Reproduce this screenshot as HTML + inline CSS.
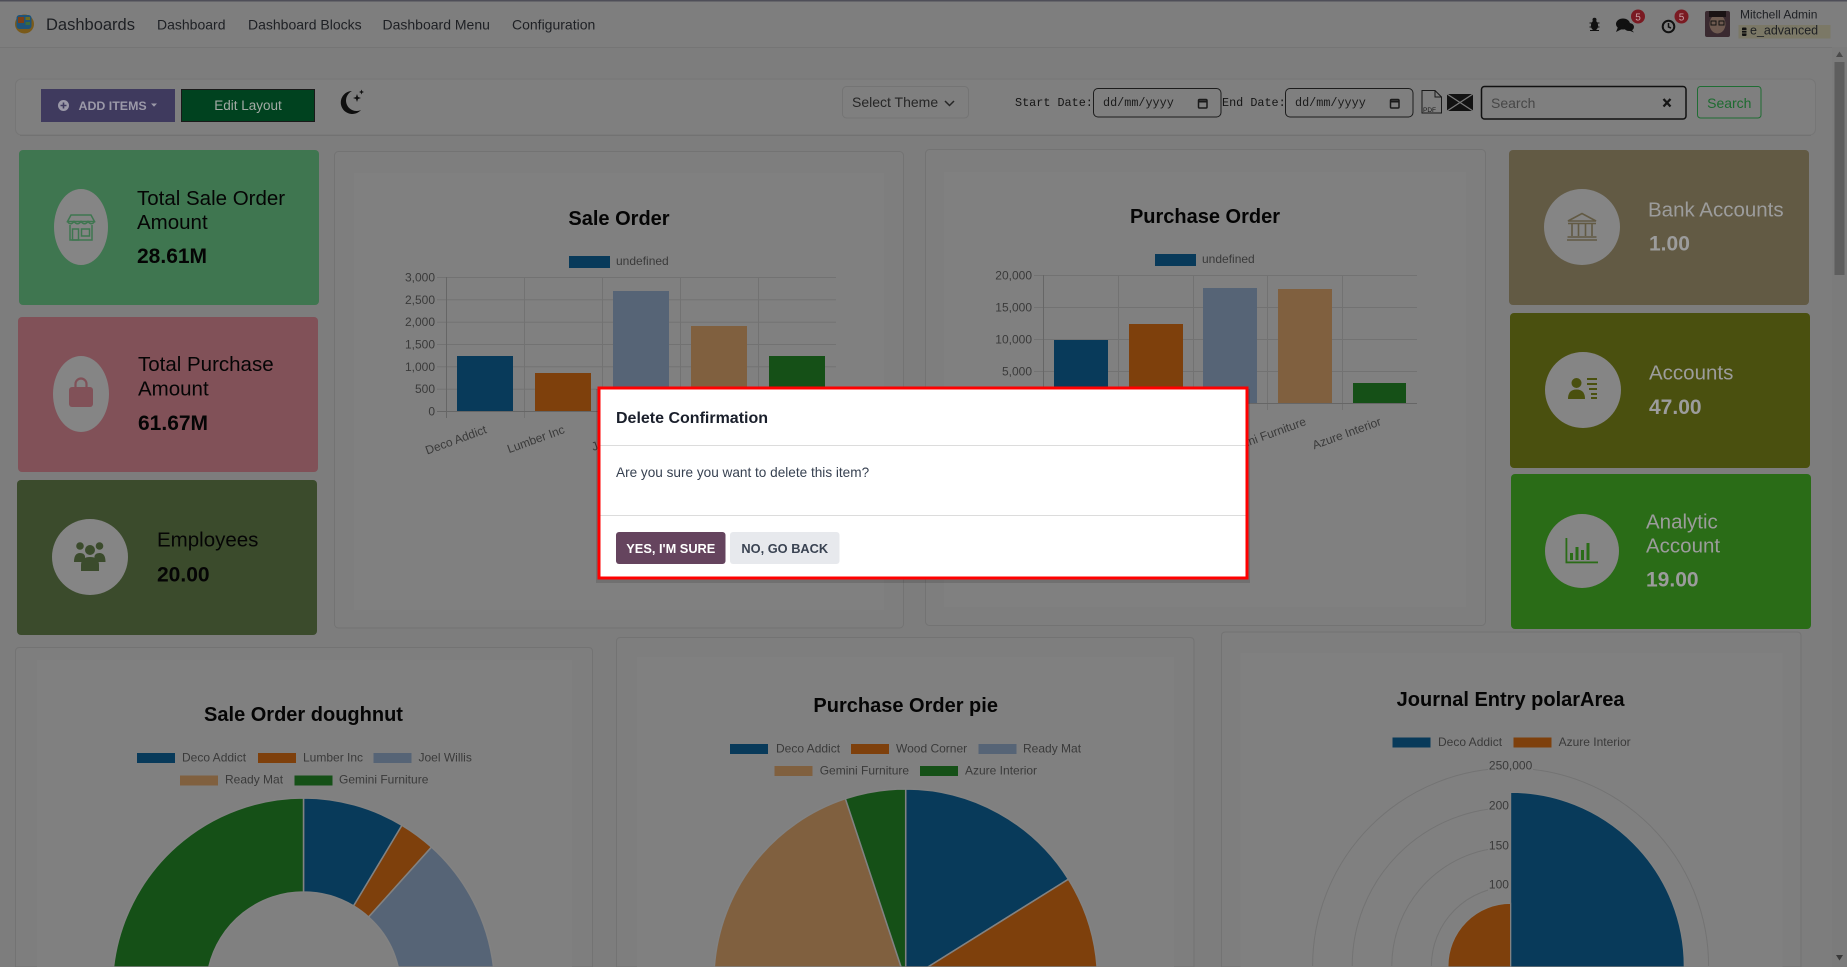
<!DOCTYPE html>
<html>
<head>
<meta charset="utf-8">
<style>
html,body{margin:0;padding:0;width:1847px;height:967px;overflow:hidden;background:#7d7d7d;}
#wrap{position:relative;width:1847px;height:967px;overflow:hidden}
svg{position:absolute;left:0;top:0;display:block;overflow:hidden}
text{font-family:"Liberation Sans",Arial,sans-serif}
.mono{font-family:"Liberation Mono",monospace}
.ax{font-size:12px;fill:#3a3a3a}
.lg{font-size:12px;fill:#3a3a3a}
.ct{font-size:20px;font-weight:bold;fill:#050505}
</style>
</head>
<body>
<div id="wrap">
<svg width="1847" height="967" viewBox="0 0 1847 967" xmlns="http://www.w3.org/2000/svg">
<rect x="0" y="0" width="1847" height="967" fill="#7d7d7d"/>

<!-- NAVBAR -->
<rect x="0" y="0" width="1847" height="47" fill="#7e7e7e"/>
<rect x="0" y="0" width="1847" height="1.5" fill="#4e4e58"/>
<line x1="0" y1="47.5" x2="1847" y2="47.5" stroke="#757575" stroke-width="1"/>
<circle cx="24.5" cy="24" r="9.5" fill="#7a5a1a"/>
<rect x="16.5" y="15" width="15" height="14" rx="3" fill="#1f5378"/>
<rect x="18" y="17" width="6" height="6" fill="#7d3f14"/>
<rect x="25.5" y="17" width="4.5" height="3" fill="#6b6b20"/>
<rect x="25.5" y="22" width="4.5" height="3" fill="#3d6b3a"/>
<text x="46" y="30" font-size="16.5" fill="#1e2024">Dashboards</text>
<text x="157" y="29.3" font-size="14" fill="#1e2024">Dashboard</text>
<text x="248" y="29.3" font-size="14" fill="#1e2024">Dashboard Blocks</text>
<text x="382.5" y="29.3" font-size="14" fill="#1e2024">Dashboard Menu</text>
<text x="512" y="29.3" font-size="14" fill="#1e2024">Configuration</text>

<g fill="#111">
<ellipse cx="1594.5" cy="25.5" rx="3.6" ry="5"/>
<circle cx="1594.5" cy="19.8" r="2"/>
<line x1="1589.5" y1="23" x2="1599.5" y2="23" stroke="#111" stroke-width="1"/>
<line x1="1589.5" y1="27" x2="1599.5" y2="27" stroke="#111" stroke-width="1"/>
<line x1="1590" y1="30.5" x2="1599" y2="30.5" stroke="#111" stroke-width="1"/>
</g>
<g fill="#111">
<ellipse cx="1623" cy="24" rx="7" ry="5.5"/>
<path d="M1618 27 L1616 32 L1622 29 Z"/>
<ellipse cx="1629" cy="27" rx="5" ry="4"/>
<path d="M1631 29 L1634 32.5 L1629 30.5 Z"/>
</g>
<circle cx="1638" cy="16.5" r="7" fill="#7a1a22"/>
<text x="1638" y="20.5" font-size="10" fill="#c9a0a5" text-anchor="middle">5</text>
<circle cx="1668.5" cy="26.5" r="5.8" fill="none" stroke="#111" stroke-width="2"/>
<path d="M1668.5 23 L1668.5 27 L1671 28" stroke="#111" stroke-width="1.5" fill="none"/>
<circle cx="1681.5" cy="16.5" r="7" fill="#7a1a22"/>
<text x="1681.5" y="20.5" font-size="10" fill="#c9a0a5" text-anchor="middle">5</text>
<rect x="1705" y="11" width="25" height="26" rx="2" fill="#3a2a30"/>
<ellipse cx="1717.5" cy="24" rx="8" ry="9.5" fill="#6e5a50"/>
<rect x="1709" y="11" width="17" height="6" fill="#1a1214"/>
<rect x="1711" y="21" width="5" height="4" fill="none" stroke="#111" stroke-width="1"/>
<rect x="1719" y="21" width="5" height="4" fill="none" stroke="#111" stroke-width="1"/>
<text x="1740" y="18.5" font-size="12" fill="#1e2024">Mitchell Admin</text>
<rect x="1738.5" y="25" width="92" height="13.5" fill="#7b7866"/>
<rect x="1742" y="27.5" width="4.5" height="8.5" rx="1" fill="#111"/>
<line x1="1742" y1="30.5" x2="1746.5" y2="30.5" stroke="#7b7866" stroke-width="0.8"/>
<line x1="1742" y1="33" x2="1746.5" y2="33" stroke="#7b7866" stroke-width="0.8"/>
<text x="1750" y="34.5" font-size="12.5" fill="#1e2024">e_advanced</text>

<!-- scrollbar -->
<rect x="1832" y="47" width="15" height="920" fill="#7b7b7b"/>
<rect x="1834.5" y="62" width="10" height="213" fill="#5e5e5e"/>
<path d="M1836 57 L1839.5 51.5 L1843 57 Z" fill="#4a4a4a"/>
<path d="M1836 955 L1839.5 960.5 L1843 955 Z" fill="#3a3a3a"/>

<!-- TOOLBAR PANEL -->
<rect x="15.5" y="79" width="1800" height="56" rx="6" fill="#7f7f7f" stroke="#767676" stroke-width="1"/>
<line x1="20" y1="135.5" x2="1811" y2="135.5" stroke="#727272" stroke-width="1"/>
<rect x="41" y="89" width="134" height="33" fill="#3f3a5e"/>
<circle cx="63.5" cy="105.5" r="5.5" fill="#9b99a8"/>
<path d="M60.5 105.5 H66.5 M63.5 102.5 V108.5" stroke="#3f3a5e" stroke-width="1.6"/>
<text x="78.5" y="110" font-size="12.4" font-weight="bold" fill="#9b99a8">ADD ITEMS</text>
<path d="M151 103.5 L157 103.5 L154 106.8 Z" fill="#9b99a8"/>
<rect x="181.5" y="89.5" width="133" height="32" fill="#00421f" stroke="#1a1a1a" stroke-width="1"/>
<text x="248" y="110" font-size="13.5" fill="#a3aaa5" text-anchor="middle">Edit Layout</text>
<path d="M352 91 A11.5 11.5 0 1 0 361 110 A9.5 9.5 0 0 1 352 91 Z" fill="#0f0f0f"/>
<path d="M357 94 L358 97 L361 98 L358 99 L357 102 L356 99 L353 98 L356 97 Z" fill="#0f0f0f"/>
<path d="M361.5 89.5 L362.2 91.3 L364 92 L362.2 92.7 L361.5 94.5 L360.8 92.7 L359 92 L360.8 91.3 Z" fill="#0f0f0f"/>

<rect x="842.5" y="86.5" width="126" height="31.5" rx="4" fill="#7f7f7f" stroke="#747474" stroke-width="1"/>
<text x="852" y="107" font-size="14" fill="#262626">Select Theme</text>
<path d="M945 101 L949.5 105.5 L954 101" stroke="#262626" stroke-width="1.5" fill="none"/>
<text x="1015" y="106" class="mono" font-size="11.8" fill="#151515">Start Date:</text>
<rect x="1093.5" y="88.5" width="127.5" height="28.5" rx="4.5" fill="#7f7f7f" stroke="#1c1c1c" stroke-width="1"/>
<text x="1103" y="106" class="mono" font-size="11.8" fill="#1a1a1a">dd/mm/yyyy</text>
<rect x="1198.5" y="99.5" width="8.5" height="8.5" rx="1" fill="none" stroke="#1a1a1a" stroke-width="1.5"/>
<line x1="1198.5" y1="101.5" x2="1207" y2="101.5" stroke="#1a1a1a" stroke-width="2"/>
<text x="1222" y="106" class="mono" font-size="11.8" fill="#151515">End Date:</text>
<rect x="1285.5" y="88.5" width="127.5" height="28.5" rx="4.5" fill="#7f7f7f" stroke="#1c1c1c" stroke-width="1"/>
<text x="1295" y="106" class="mono" font-size="11.8" fill="#1a1a1a">dd/mm/yyyy</text>
<rect x="1390.5" y="99.5" width="8.5" height="8.5" rx="1" fill="none" stroke="#1a1a1a" stroke-width="1.5"/>
<line x1="1390.5" y1="101.5" x2="1399" y2="101.5" stroke="#1a1a1a" stroke-width="2"/>
<path d="M1422 90.5 L1435 90.5 L1441.5 97 L1441.5 113 L1422 113 Z" fill="none" stroke="#1a1a1a" stroke-width="1"/>
<path d="M1435 90.5 L1435 97 L1441.5 97" fill="none" stroke="#1a1a1a" stroke-width="1"/>
<text x="1423" y="112" font-size="6.5" fill="#1a1a1a">PDF</text>
<rect x="1447" y="94" width="26" height="17" fill="#121212"/>
<path d="M1447 94 L1473 111 M1473 94 L1447 111" stroke="#7a7a7a" stroke-width="1.3"/>
<rect x="1481.5" y="86.5" width="204.5" height="32.5" rx="3" fill="#7f7f7f" stroke="#111" stroke-width="1.5"/>
<text x="1491" y="108" font-size="14" fill="#474747">Search</text>
<path d="M1663.5 99 L1670.5 106.5 M1670.5 99 L1663.5 106.5" stroke="#161616" stroke-width="2.3"/>
<rect x="1697.5" y="86.5" width="63.5" height="31.5" rx="3" fill="#7f7f7f" stroke="#1f6d33" stroke-width="1"/>
<text x="1729.3" y="108" font-size="14" fill="#1d6b30" text-anchor="middle">Search</text>

<!-- LEFT CARDS -->
<rect x="19" y="150" width="300" height="155" rx="4" fill="#3f7650"/>
<ellipse cx="81" cy="227" rx="27" ry="38" fill="#858585"/>
<g fill="none" stroke="#3f7650" stroke-width="1.5">
<path d="M71 215 L91 215 L94.5 221.5 L67.5 221.5 Z"/>
<path d="M67.5 221.5 Q70.5 226 74 221.5 Q77.5 226 81 221.5 Q84.5 226 88 221.5 Q91.5 226 94.5 221.5"/>
<path d="M70 225 L70 240 L92 240 L92 225"/>
<rect x="72.5" y="229" width="6" height="11"/>
<rect x="81.5" y="229" width="8" height="7"/>
</g>
<text x="137" y="205" font-size="20.5" fill="#050505">Total Sale Order</text>
<text x="137" y="229" font-size="20.5" fill="#050505">Amount</text>
<text x="137" y="263" font-size="21" font-weight="bold" fill="#050505">28.61M</text>

<rect x="18" y="317" width="300" height="155" rx="4" fill="#815158"/>
<ellipse cx="81" cy="394" rx="28" ry="38" fill="#858585"/>
<path d="M75.5 388 L75.5 384 A5.5 5.5 0 0 1 86.5 384 L86.5 388" fill="none" stroke="#815158" stroke-width="2.2"/>
<rect x="69" y="387" width="24" height="20" rx="3" fill="#815158"/>
<text x="138" y="371" font-size="20.5" fill="#050505">Total Purchase</text>
<text x="138" y="395.5" font-size="20.5" fill="#050505">Amount</text>
<text x="138" y="430" font-size="21" font-weight="bold" fill="#050505">61.67M</text>

<rect x="17" y="480" width="300" height="155" rx="4" fill="#3b4b2c"/>
<circle cx="90" cy="557" r="38" fill="#858585"/>
<g fill="#3b4b2c">
<circle cx="80" cy="546" r="3.8"/>
<circle cx="99.5" cy="546" r="3.8"/>
<circle cx="90" cy="550" r="5"/>
<path d="M74 562 Q74 553 80 553 Q84 553 85 556 L85 562 Z"/>
<path d="M105.5 562 Q105.5 553 99.5 553 Q95.5 553 94.5 556 L94.5 562 Z"/>
<path d="M81 571 L81 565 Q81 557 90 557 Q99 557 99 565 L99 571 Z"/>
</g>
<text x="157" y="546.7" font-size="20.5" fill="#050505">Employees</text>
<text x="157" y="581.7" font-size="21" font-weight="bold" fill="#050505">20.00</text>

<!-- RIGHT CARDS -->
<rect x="1509" y="150" width="300" height="155" rx="4" fill="#625a44"/>
<circle cx="1582" cy="227" r="38" fill="#858585"/>
<g fill="none" stroke="#625a44" stroke-width="1.6">
<path d="M1568 221 L1582 213.5 L1596 221 Z"/>
<line x1="1568" y1="223.5" x2="1596" y2="223.5"/>
<line x1="1572" y1="224" x2="1572" y2="236"/>
<line x1="1578.5" y1="224" x2="1578.5" y2="236"/>
<line x1="1585.5" y1="224" x2="1585.5" y2="236"/>
<line x1="1592" y1="224" x2="1592" y2="236"/>
<line x1="1567.5" y1="237" x2="1596.5" y2="237"/>
<line x1="1567" y1="240" x2="1597" y2="240"/>
</g>
<text x="1648" y="216.7" font-size="20.5" fill="#9c9c9c">Bank Accounts</text>
<text x="1649" y="250.7" font-size="21" font-weight="bold" fill="#9c9c9c">1.00</text>

<rect x="1510" y="313" width="300" height="155" rx="4" fill="#4a500f"/>
<circle cx="1583" cy="390" r="38" fill="#858585"/>
<g fill="#4a500f">
<circle cx="1576.5" cy="383" r="5"/>
<path d="M1568 399 Q1568 389.5 1576.5 389.5 Q1585 389.5 1585 399 Z"/>
<rect x="1587" y="378" width="10" height="2"/>
<rect x="1587" y="383" width="10" height="2"/>
<rect x="1589" y="388" width="8" height="2"/>
<rect x="1591" y="393" width="6" height="2"/>
<rect x="1591" y="397" width="6" height="2"/>
</g>
<text x="1649" y="379.3" font-size="20.5" fill="#9c9c9c">Accounts</text>
<text x="1649" y="414" font-size="21" font-weight="bold" fill="#9c9c9c">47.00</text>

<rect x="1511" y="474" width="300" height="155" rx="4" fill="#2a6c17"/>
<circle cx="1582" cy="551" r="37" fill="#858585"/>
<g fill="#2a6c17">
<rect x="1565.5" y="538" width="1.8" height="25"/>
<rect x="1565.5" y="561.5" width="32.5" height="1.8"/>
<rect x="1570" y="553" width="3" height="7"/>
<rect x="1575.5" y="547" width="3" height="13"/>
<rect x="1581" y="550" width="3" height="10"/>
<rect x="1586.5" y="543" width="3" height="17"/>
</g>
<text x="1646" y="528.3" font-size="20.5" fill="#9c9c9c">Analytic</text>
<text x="1646" y="552.3" font-size="20.5" fill="#9c9c9c">Account</text>
<text x="1646" y="586.7" font-size="21" font-weight="bold" fill="#9c9c9c">19.00</text>

<!-- SALE ORDER CARD -->
<rect x="334.5" y="151.5" width="569" height="476.5" rx="4" fill="#7e7e7e" stroke="#737373" stroke-width="1"/>
<rect x="354" y="173" width="530" height="437" fill="#808080"/>
<text x="619" y="225" class="ct" text-anchor="middle">Sale Order</text>
<rect x="569" y="256" width="41" height="12" fill="#083a5a"/>
<text x="616" y="265" class="lg">undefined</text>
<g stroke="#727272" stroke-width="1">
<line x1="437" y1="277.5" x2="836" y2="277.5"/>
<line x1="437" y1="299.8" x2="836" y2="299.8"/>
<line x1="437" y1="322.2" x2="836" y2="322.2"/>
<line x1="437" y1="344.5" x2="836" y2="344.5"/>
<line x1="437" y1="366.8" x2="836" y2="366.8"/>
<line x1="437" y1="389.2" x2="836" y2="389.2"/>
<line x1="524.5" y1="277" x2="524.5" y2="418"/>
<line x1="602.5" y1="277" x2="602.5" y2="418"/>
<line x1="680.5" y1="277" x2="680.5" y2="418"/>
<line x1="758.5" y1="277" x2="758.5" y2="418"/>
</g>
<line x1="446.5" y1="277" x2="446.5" y2="418" stroke="#666" stroke-width="1"/>
<line x1="437" y1="411.5" x2="836" y2="411.5" stroke="#666" stroke-width="1"/>
<g text-anchor="end">
<text x="435" y="281.5" class="ax">3,000</text>
<text x="435" y="303.8" class="ax">2,500</text>
<text x="435" y="326.2" class="ax">2,000</text>
<text x="435" y="348.5" class="ax">1,500</text>
<text x="435" y="370.8" class="ax">1,000</text>
<text x="435" y="393.2" class="ax">500</text>
<text x="435" y="415.5" class="ax">0</text>
</g>
<rect x="457" y="356" width="56" height="55" fill="#083a5a"/>
<rect x="535" y="373" width="56" height="38" fill="#7e400c"/>
<rect x="613" y="291" width="56" height="120" fill="#566476"/>
<rect x="691" y="326" width="56" height="85" fill="#80603f"/>
<rect x="769" y="356" width="56" height="55" fill="#155017"/>
<g text-anchor="end">
<text x="486" y="433" class="ax" transform="rotate(-20 486 429)">Deco Addict</text>
<text x="564" y="433" class="ax" transform="rotate(-20 564 429)">Lumber Inc</text>
<text x="642" y="433" class="ax" transform="rotate(-20 642 429)">Joel Willis</text>
<text x="720" y="433" class="ax" transform="rotate(-20 720 429)">Ready Mat</text>
<text x="798" y="433" class="ax" transform="rotate(-20 798 429)">Gemini Furniture</text>
</g>

<!-- PURCHASE ORDER CARD -->
<rect x="925.5" y="149.5" width="560" height="476" rx="4" fill="#7e7e7e" stroke="#737373" stroke-width="1"/>
<rect x="944" y="172" width="522" height="435" fill="#808080"/>
<text x="1205" y="223" class="ct" text-anchor="middle">Purchase Order</text>
<rect x="1155" y="254" width="41" height="12" fill="#083a5a"/>
<text x="1202" y="263" class="lg">undefined</text>
<g stroke="#727272" stroke-width="1">
<line x1="1034" y1="275.5" x2="1417" y2="275.5"/>
<line x1="1034" y1="307.5" x2="1417" y2="307.5"/>
<line x1="1034" y1="339.5" x2="1417" y2="339.5"/>
<line x1="1034" y1="371.5" x2="1417" y2="371.5"/>
<line x1="1118.5" y1="275" x2="1118.5" y2="410"/>
<line x1="1193.5" y1="275" x2="1193.5" y2="410"/>
<line x1="1267.5" y1="275" x2="1267.5" y2="410"/>
<line x1="1342.5" y1="275" x2="1342.5" y2="410"/>
</g>
<line x1="1043.5" y1="275" x2="1043.5" y2="410" stroke="#666" stroke-width="1"/>
<line x1="1034" y1="403.5" x2="1417" y2="403.5" stroke="#666" stroke-width="1"/>
<g text-anchor="end">
<text x="1032" y="279.5" class="ax">20,000</text>
<text x="1032" y="311.5" class="ax">15,000</text>
<text x="1032" y="343.5" class="ax">10,000</text>
<text x="1032" y="375.5" class="ax">5,000</text>
<text x="1032" y="407.5" class="ax">0</text>
</g>
<rect x="1054" y="340" width="54" height="63" fill="#083a5a"/>
<rect x="1129" y="324" width="54" height="79" fill="#7e400c"/>
<rect x="1203" y="288" width="54" height="115" fill="#566476"/>
<rect x="1278" y="289" width="54" height="114" fill="#80603f"/>
<rect x="1353" y="383" width="53" height="20" fill="#155017"/>
<g text-anchor="end">
<text x="1081" y="425" class="ax" transform="rotate(-20 1081 421)">Deco Addict</text>
<text x="1156" y="425" class="ax" transform="rotate(-20 1156 421)">Wood Corner</text>
<text x="1230.5" y="425" class="ax" transform="rotate(-20 1230.5 421)">Ready Mat</text>
<text x="1305.5" y="425" class="ax" transform="rotate(-20 1305.5 421)">Gemini Furniture</text>
<text x="1380.5" y="425" class="ax" transform="rotate(-20 1380.5 421)">Azure Interior</text>
</g>

<!-- SALE ORDER DOUGHNUT CARD -->
<path d="M15.5 967 L15.5 651.5 Q15.5 647.5 19.5 647.5 L588.5 647.5 Q592.5 647.5 592.5 651.5 L592.5 967 Z" fill="#7e7e7e" stroke="#737373" stroke-width="1"/>
<rect x="37" y="660" width="535" height="307" fill="#808080"/>
<text x="303.5" y="721" class="ct" text-anchor="middle">Sale Order doughnut</text>
<rect x="137" y="753" width="38" height="10" fill="#083a5a"/>
<text x="182" y="761.5" class="lg">Deco Addict</text>
<rect x="258" y="753" width="38" height="10" fill="#7e400c"/>
<text x="303" y="761.5" class="lg">Lumber Inc</text>
<rect x="373.5" y="753" width="38" height="10" fill="#566476"/>
<text x="418.5" y="761.5" class="lg">Joel Willis</text>
<rect x="180" y="775.5" width="38" height="10" fill="#80603f"/>
<text x="225" y="783.5" class="lg">Ready Mat</text>
<rect x="294.5" y="775.5" width="38" height="10" fill="#155017"/>
<text x="339" y="783.5" class="lg">Gemini Furniture</text>
<g stroke="#828282" stroke-width="1.5">
<path d="M303.5 798 A191.3 191.3 0 0 1 402.0 825.3 L353.6 905.9 A97.3 97.3 0 0 0 303.5 892 Z" fill="#083a5a"/>
<path d="M402.0 825.3 A191.3 191.3 0 0 1 431.5 847.1 L368.6 917.0 A97.3 97.3 0 0 0 353.6 905.9 Z" fill="#7e400c"/>
<path d="M431.5 847.1 A191.3 191.3 0 0 1 493.5 967 L398.2 967 A97.3 97.3 0 0 0 368.6 917.0 Z" fill="#566476"/>
<path d="M113.5 967 A191.3 191.3 0 0 1 303.5 798 L303.5 892 A97.3 97.3 0 0 0 208.8 967 Z" fill="#155017"/>
</g>

<!-- PURCHASE ORDER PIE CARD -->
<path d="M616.5 967 L616.5 641.5 Q616.5 637.5 620.5 637.5 L1190 637.5 Q1194 637.5 1194 641.5 L1194 967 Z" fill="#7e7e7e" stroke="#737373" stroke-width="1"/>
<rect x="637" y="657" width="537" height="310" fill="#808080"/>
<text x="905.7" y="712" class="ct" text-anchor="middle">Purchase Order pie</text>
<rect x="730" y="744" width="38" height="10" fill="#083a5a"/>
<text x="776" y="752.5" class="lg">Deco Addict</text>
<rect x="851" y="744" width="38" height="10" fill="#7e400c"/>
<text x="896" y="752.5" class="lg">Wood Corner</text>
<rect x="978.5" y="744" width="38" height="10" fill="#566476"/>
<text x="1023" y="752.5" class="lg">Ready Mat</text>
<rect x="774.5" y="766" width="38" height="10" fill="#80603f"/>
<text x="819.7" y="774.5" class="lg">Gemini Furniture</text>
<rect x="920" y="766" width="38" height="10" fill="#155017"/>
<text x="965" y="774.5" class="lg">Azure Interior</text>
<g stroke="#828282" stroke-width="1.5">
<path d="M905.7 967 L905.7 789 A191.9 191.9 0 0 1 1068.4 879.2 L927.9 967 Z" fill="#083a5a"/>
<path d="M927.9 967 L1068.4 879.2 A191.9 191.9 0 0 1 1097.1 967 Z" fill="#7e400c"/>
<path d="M714.3 967 A191.9 191.9 0 0 1 845.4 798.7 L901.1 967 Z" fill="#80603f"/>
<path d="M901.1 967 L845.4 798.7 A191.9 191.9 0 0 1 905.7 789 L905.7 967 Z" fill="#155017"/>
</g>

<!-- JOURNAL ENTRY POLAR CARD -->
<path d="M1221.5 967 L1221.5 636 Q1221.5 632 1225.5 632 L1797 632 Q1801 632 1801 636 L1801 967 Z" fill="#7e7e7e" stroke="#737373" stroke-width="1"/>
<rect x="1240.5" y="653" width="542" height="314" fill="#808080"/>
<text x="1510.6" y="706" class="ct" text-anchor="middle">Journal Entry polarArea</text>
<rect x="1392.5" y="737.5" width="38" height="10" fill="#083a5a"/>
<text x="1438" y="746" class="lg">Deco Addict</text>
<rect x="1513.5" y="737.5" width="38" height="10" fill="#7e400c"/>
<text x="1558.6" y="746" class="lg">Azure Interior</text>
<g fill="none" stroke="#737373" stroke-width="1">
<path d="M1312.6 966 A198 198 0 0 1 1708.6 966"/>
<path d="M1352.2 966 A158.4 158.4 0 0 1 1669 966"/>
<path d="M1391.8 966 A118.8 118.8 0 0 1 1629.4 966"/>
<path d="M1431.4 966 A79.2 79.2 0 0 1 1589.8 966"/>
<path d="M1471 966 A39.6 39.6 0 0 1 1550.2 966"/>
</g>
<g fill="#808080">
<rect x="1488" y="758" width="45" height="14"/>
<rect x="1488" y="798" width="45" height="14"/>
<rect x="1488" y="838" width="45" height="14"/>
<rect x="1488" y="877" width="45" height="14"/>
<rect x="1490" y="917" width="41" height="14"/>
</g>
<g text-anchor="middle">
<text x="1510.6" y="769.5" class="ax">250,000</text>
<text x="1510.6" y="809.5" class="ax">200,000</text>
<text x="1510.6" y="849.5" class="ax">150,000</text>
<text x="1510.6" y="888.5" class="ax">100,000</text>
<text x="1510.6" y="928.5" class="ax">50,000</text>
</g>
<g stroke="#828282" stroke-width="1.2">
<path d="M1510.6 967 L1510.6 792.3 A173.7 173.7 0 0 1 1684.3 966 L1684.3 967 Z" fill="#083a5a"/>
<path d="M1510.6 967 L1447.9 967 L1447.9 966 A62.7 62.7 0 0 1 1510.6 903.3 Z" fill="#7e400c"/>
</g>

<!-- MODAL -->
<rect x="596" y="389" width="654" height="194" fill="#000" opacity="0.12"/>
<rect x="599" y="388" width="648" height="190" fill="#ffffff" stroke="#ff0000" stroke-width="3"/>
<text x="616" y="423" font-size="16" font-weight="bold" fill="#1a1f2b">Delete Confirmation</text>
<line x1="600.5" y1="445.5" x2="1245.5" y2="445.5" stroke="#dcdcdc" stroke-width="1"/>
<text x="616" y="477" font-size="13.6" fill="#374151">Are you sure you want to delete this item?</text>
<line x1="600.5" y1="515.5" x2="1245.5" y2="515.5" stroke="#dcdcdc" stroke-width="1"/>
<rect x="616" y="532" width="109.5" height="32" rx="3" fill="#65445e"/>
<text x="670.8" y="552.8" font-size="12.8" font-weight="bold" fill="#ffffff" text-anchor="middle">YES, I'M SURE</text>
<rect x="730" y="532" width="109.5" height="32" rx="3" fill="#e7e9ed"/>
<text x="784.8" y="552.8" font-size="12.8" font-weight="bold" fill="#3a4352" text-anchor="middle">NO, GO BACK</text>
</svg>
</div>
</body>
</html>
